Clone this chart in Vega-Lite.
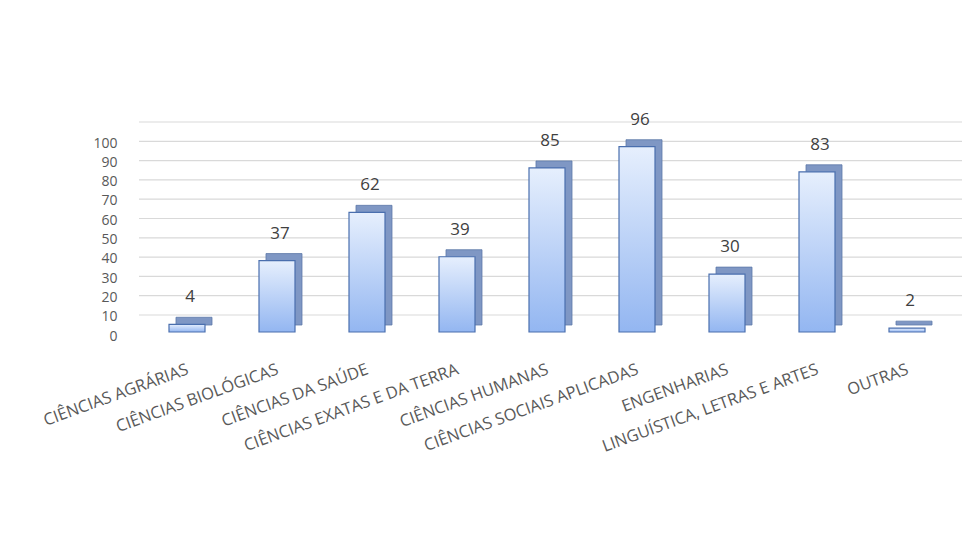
{
  "$schema": "https://vega.github.io/schema/vega-lite/v6.json",
  "autosize": "none",
  "width": 816,
  "height": 193,
  "padding": {"left": 139, "top": 139, "right": 7, "bottom": 203},
  "background": "white",
  "config": {"view": {"stroke": null}, "font": "Open Sans"},
  "datasets": {
    "areas": [
      {"area": "CIÊNCIAS AGRÁRIAS", "n": 4},
      {"area": "CIÊNCIAS BIOLÓGICAS", "n": 37},
      {"area": "CIÊNCIAS DA SAÚDE", "n": 62},
      {"area": "CIÊNCIAS EXATAS E DA TERRA", "n": 39},
      {"area": "CIÊNCIAS HUMANAS", "n": 85},
      {"area": "CIÊNCIAS SOCIAIS APLICADAS", "n": 96},
      {"area": "ENGENHARIAS", "n": 30},
      {"area": "LINGUÍSTICA, LETRAS E ARTES", "n": 83},
      {"area": "OUTRAS", "n": 2}
    ],
    "grid": [{"v": 0}, {"v": 10}, {"v": 20}, {"v": 30}, {"v": 40}, {"v": 50}, {"v": 60}, {"v": 70}, {"v": 80}, {"v": 90}, {"v": 100}]
  },
  "resolve": {"axis": {"y": "independent"}},
  "layer": [
    {
      "data": {"name": "grid"},
      "mark": {"type": "rule", "color": "#d9d9d9", "strokeWidth": 1.2, "yOffset": -17, "xOffset": 15},
      "encoding": {
        "y": {"field": "v", "type": "quantitative", "scale": {"domain": [0, 100], "nice": false},
              "axis": {"title": null, "values": [0, 10, 20, 30, 40, 50, 60, 70, 80, 90, 100], "grid": false,
                       "domain": false, "ticks": false, "labelPadding": 22, "labelOffset": 4,
                       "labelOverlap": false, "labelFont": "Open Sans", "labelFontSize": 14, "labelColor": "#595959"}}
      }
    },
    {
      "data": {"name": "areas"},
      "layer": [
        {
          "mark": {"type": "bar", "color": "#7f97c4", "stroke": "#5d78a8", "strokeWidth": 0.8, "xOffset": 7, "yOffset": -7, "y2Offset": -7},
          "encoding": {
            "x": {"field": "area", "type": "nominal", "sort": null,
                  "scale": {"paddingInner": 0.6, "paddingOuter": 0.3333, "align": 0.5},
                  "axis": {"title": null, "labelAngle": -20, "labelAlign": "right", "labelBaseline": "top",
                           "labelPadding": 29, "ticks": false, "domain": false, "labelOverlap": false,
                           "labelFont": "Open Sans", "labelFontSize": 16.5, "labelColor": "#595959", "labelLimit": 400, "labelOffset": -2}},
            "y": {"field": "n", "type": "quantitative", "axis": null}
          }
        },
        {
          "mark": {"type": "bar", "stroke": "#4a6fae", "strokeWidth": 1.2,
                   "fill": {"gradient": "linear", "x1": 0, "y1": 0, "x2": 0, "y2": 1,
                            "stops": [{"offset": 0, "color": "#e6effd"}, {"offset": 1, "color": "#93b6f1"}]}},
          "encoding": {
            "x": {"field": "area", "type": "nominal", "sort": null},
            "y": {"field": "n", "type": "quantitative", "axis": null}
          }
        },
        {
          "mark": {"type": "text", "baseline": "middle", "dy": -27, "dx": 3, "fontSize": 17, "color": "#404040", "font": "Open Sans"},
          "encoding": {
            "x": {"field": "area", "type": "nominal", "sort": null},
            "y": {"field": "n", "type": "quantitative", "axis": null},
            "text": {"field": "n", "type": "quantitative"}
          }
        }
      ]
    }
  ]
}
